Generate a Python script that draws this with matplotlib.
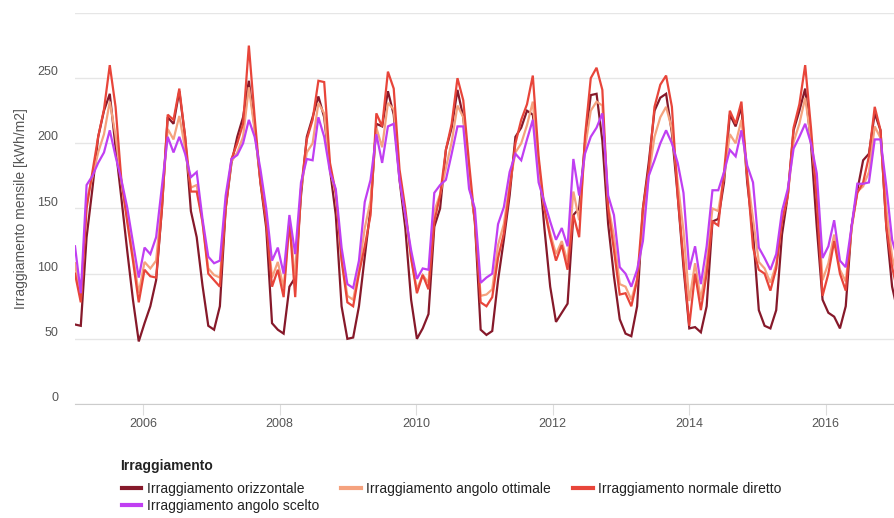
import matplotlib
matplotlib.use("Agg")
import matplotlib.pyplot as plt

# Monthly irradiation [kWh/m2], Jan 2005 onwards
orizzontale = [61, 60, 128, 165, 205, 225, 238, 197, 158, 118, 80, 48,
               62, 75, 95, 150, 220, 215, 240, 205, 148, 128, 91, 60,
               57, 75, 150, 185, 205, 220, 248, 212, 170, 135, 62, 57,
               54, 90, 97, 160, 205, 220, 236, 220, 180, 145, 75, 50,
               51, 75, 113, 150, 215, 213, 240, 222, 172, 135, 80, 50,
               58, 69, 136, 150, 195, 212, 241, 220, 175, 140, 57, 53,
               56, 95, 126, 160, 205, 212, 225, 222, 186, 135, 90, 63,
               70, 77, 145, 150, 200, 237, 238, 202, 138, 98, 65, 54,
               52, 75, 150, 185, 225, 235, 238, 208, 160, 105, 58, 59,
               55, 75, 140, 142, 170, 222, 213, 228, 170, 131, 72, 60,
               58, 72, 130, 160, 210, 225, 242, 200, 136, 80, 70, 67,
               58, 75, 136, 164, 187, 192, 223, 210, 136, 90, 70, 55]

ottimale = [108, 80, 156, 174, 193, 207, 232, 206, 170, 143, 114, 85,
            109, 104, 110, 156, 211, 203, 221, 196, 166, 168, 139, 104,
            99, 97, 153, 186, 193, 205, 243, 210, 173, 143, 97, 109,
            89, 140, 96, 165, 193, 200, 231, 223, 180, 161, 112, 83,
            80, 103, 135, 156, 212, 197, 231, 226, 174, 145, 112, 88,
            99, 93, 148, 161, 181, 201, 229, 220, 172, 142, 83, 84,
            88, 122, 138, 169, 193, 200, 214, 232, 177, 150, 131, 115,
            125, 109, 163, 141, 196, 225, 232, 229, 152, 129, 92, 90,
            80, 96, 135, 175, 205, 220, 228, 211, 170, 133, 79, 108,
            80, 108, 150, 148, 175, 207, 200, 218, 176, 142, 109, 104,
            93, 107, 142, 160, 201, 215, 235, 203, 164, 95, 108, 130,
            103, 94, 134, 163, 167, 178, 213, 204, 150, 113, 95, 83]

normale_diretto = [100, 78, 150, 178, 205, 226, 260, 228, 172, 140, 110, 78,
                   103, 98, 97, 150, 222, 218, 242, 205, 163, 163, 140, 100,
                   95, 90, 150, 188, 200, 215, 275, 220, 170, 140, 90, 103,
                   82, 140, 82, 165, 203, 218, 248, 247, 185, 162, 110, 78,
                   75, 100, 121, 145, 223, 213, 255, 242, 180, 150, 112, 85,
                   99, 88, 140, 160, 195, 215, 250, 233, 185, 140, 78, 75,
                   82, 112, 131, 165, 200, 218, 230, 252, 190, 150, 128, 110,
                   122, 103, 145, 128, 205, 250, 258, 241, 150, 118, 84, 85,
                   75, 95, 150, 180, 228, 245, 252, 228, 160, 110, 60, 100,
                   72, 100, 140, 137, 178, 225, 215, 232, 175, 120, 103, 100,
                   87, 104, 140, 160, 212, 230, 260, 212, 156, 83, 100, 125,
                   100, 87, 136, 162, 170, 190, 228, 210, 136, 105, 85, 70]

angolo_scelto = [121, 85, 168, 175, 185, 193, 210, 190, 172, 151, 124, 97,
                 120, 115, 128, 167, 205, 193, 205, 192, 174, 178, 142, 113,
                 108, 110, 160, 188, 191, 200, 218, 205, 180, 150, 110, 120,
                 100, 145, 115, 170, 188, 187, 220, 205, 178, 165, 120, 92,
                 89, 110, 155, 172, 207, 185, 213, 215, 172, 145, 118, 96,
                 104, 103, 162, 168, 172, 192, 213, 213, 165, 150, 93, 97,
                 100, 138, 151, 178, 192, 187, 203, 218, 170, 155, 140, 126,
                 135, 121, 188, 160, 192, 205, 212, 223, 160, 145, 105, 100,
                 90, 103, 125, 175, 187, 200, 210, 200, 185, 162, 103, 121,
                 92, 121, 164, 164, 178, 195, 190, 210, 183, 170, 120, 112,
                 103, 115, 148, 165, 196, 205, 215, 200, 177, 112, 121, 141,
                 110, 105, 136, 169, 169, 170, 203, 203, 167, 126, 110, 100]

labels = ["Irraggiamento orizzontale", "Irraggiamento angolo ottimale",
          "Irraggiamento normale diretto", "Irraggiamento angolo scelto"]
colors = ["#86192a", "#f5a27e", "#e8453a", "#c03ff2"]
tick_years = [2006, 2008, 2010, 2012, 2014, 2016]
y_ticks = [0, 50, 100, 150, 200, 250, 300]

# the year ticks of the source chart sit ~2% closer together than its monthly points
TICK_SCALE = 0.9813

plt.rcParams["font.family"] = ["Liberation Sans", "DejaVu Sans"]

months = list(range(len(orizzontale)))
series = [orizzontale, ottimale, normale_diretto, angolo_scelto]

fig = plt.figure(figsize=(8.95, 5.18), dpi=100)
ax = fig.add_axes([75 / 895, 1 - 404 / 518, 1 - 75 / 895, 391 / 518])

lines = []
for vals, lab, col in zip(series, labels, colors):
    ln, = ax.plot(months, vals, color=col, lw=1.6, label=lab, solid_joinstyle="miter")
    lines.append(ln)

ax.set_xlim(0, 141.5)
ax.set_ylim(0, 300)
ax.set_yticks(y_ticks)
ax.set_yticklabels([str(v) if v < 300 else "" for v in y_ticks])
ax.set_xticks([(y - 2005) * 12 * TICK_SCALE for y in tick_years])
ax.set_xticklabels([str(y) for y in tick_years])

ax.grid(axis="y", color="#e6e6e6", lw=1)
ax.set_axisbelow(True)
for s in ["top", "right", "left"]:
    ax.spines[s].set_visible(False)
ax.spines["bottom"].set_color("#cccccc")
ax.tick_params(axis="y", length=0, pad=12, labelsize=9, labelcolor="#555555")
ax.tick_params(axis="x", length=8, color="#dddddd", pad=2, labelsize=9, labelcolor="#555555")
for t in ax.get_yticklabels():
    t.set_va("bottom")

ax.set_ylabel("Irraggiamento mensile [kWh/m2]", fontsize=10, color="#555555", labelpad=7)

fig.text(120 / 895, 1 - 466 / 518, "Irraggiamento", fontsize=10, fontweight="bold",
         color="#222222", va="center", ha="left")

order = [0, 3, 1, 2]
fig.legend([lines[i] for i in order], [labels[i] for i in order],
           loc="upper left", bbox_to_anchor=(122 / 895, 1 - 482 / 518), ncol=3,
           frameon=False, fontsize=10, handlelength=1.4, handletextpad=0.4,
           labelspacing=0.2, columnspacing=1.6, borderpad=0, borderaxespad=0)
for lh in fig.legends[0].get_lines():
    lh.set_linewidth(3)
for t in fig.legends[0].get_texts():
    t.set_color("#222222")

fig.savefig("out.png", dpi=100)
